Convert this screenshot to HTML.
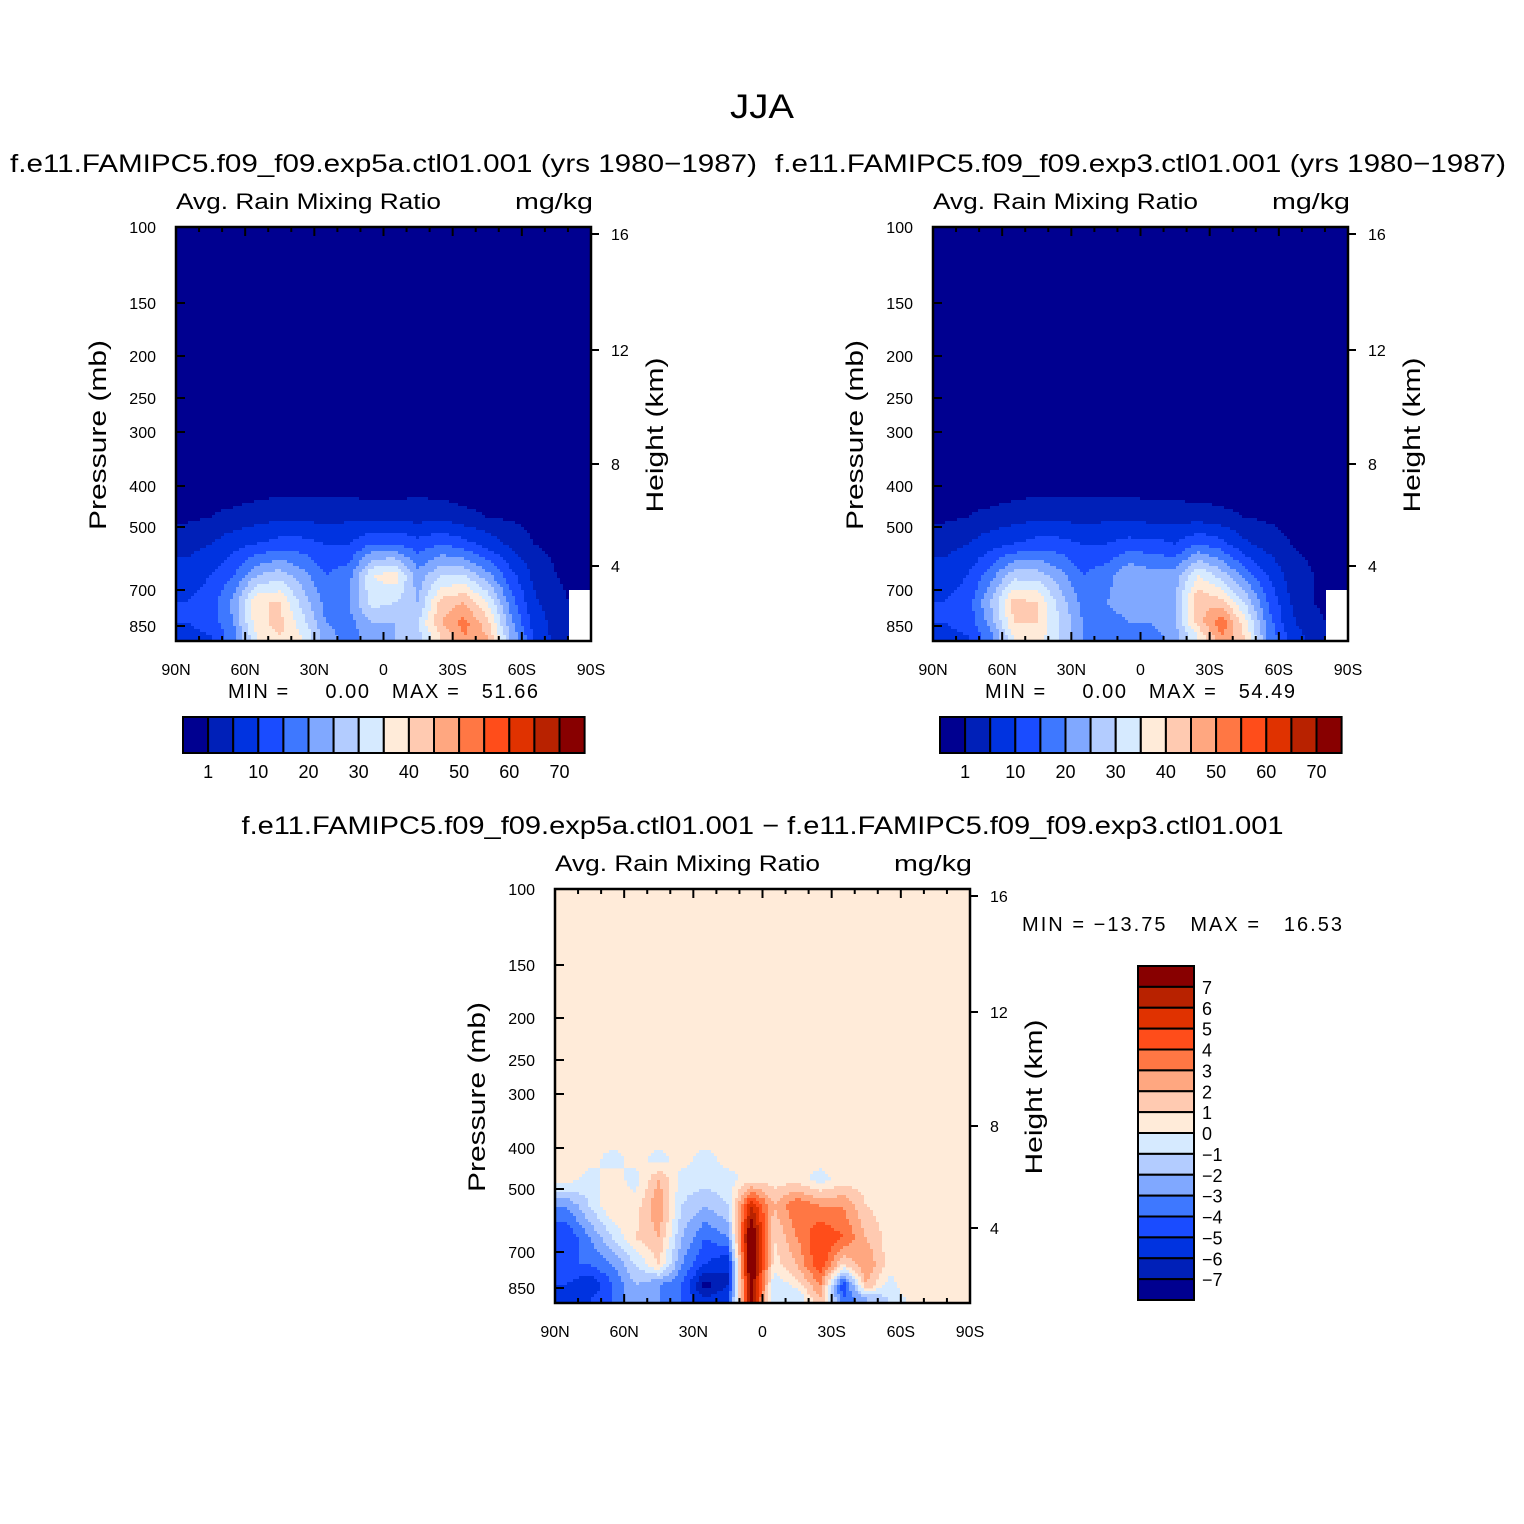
<!DOCTYPE html>
<html><head><meta charset="utf-8"><style>
body{margin:0;background:#fff}
svg{display:block;font-family:"Liberation Sans",sans-serif}
</style></head><body>
<svg id="chart" width="1524" height="1524" viewBox="0 0 1524 1524" xmlns="http://www.w3.org/2000/svg">
<rect width="1524" height="1524" fill="#fff"/>
<text x="762" y="118" font-size="34" text-anchor="middle" textLength="64" lengthAdjust="spacingAndGlyphs">JJA</text>
</svg>
<script>
// ---- data ----
const latBins = ["90-80N","80-70N","70-60N","60-50N","50-40N","40-30N","30-20N","20-10N","10-0N","0-10S","10-20S","20-30S","30-40S","40-50S","50-60S","60-70S","70-80S","80-90S"];
const presEdges = [1000,900,800,700,600,500,450,400];
const pTicks = [100,150,200,250,300,400,500,700,850];
const hTicks = [16,12,8,4];
const latTicks = ["90N","60N","30N","0","30S","60S","90S"];
const absLevels = [1,5,10,15,20,25,30,35,40,45,50,55,60,65,70];
const absLabels = ["1","10","20","30","40","50","60","70"];
const diffLevels = [-7,-6,-5,-4,-3,-2,-1,0,1,2,3,4,5,6,7];
const colors = ["#000090","#0020B8","#0033E0","#1A4CFF","#3E78FF","#80A8FF","#B3CCFF","#D6EAFF","#FFEBD9","#FFCAB1","#FFA780","#FF7744","#FF4D1A","#E03200","#B82200","#880000"];
// rows bottom->top
const exp5a = [
 [8,10,18,35,40,35,22,18,22,25,28,40,50,45,25,10,3,null],
 [10,12,20,38,42,32,20,18,25,25,30,45,52,42,22,8,3,null],
 [10,12,22,40,40,28,18,20,32,30,25,42,45,35,18,6,2,null],
 [8,10,15,25,28,22,15,18,35,38,22,30,30,22,12,4,1,0],
 [3,5,8,10,12,12,10,10,15,15,12,15,12,8,4,1,0,0],
 [0.5,1,2,3,4,4,3,4,3,4,3,4,2,1,0.5,0,0,0],
 [0,0,0,0.5,1,1,1,1,0.5,0.5,1,0.5,0,0,0,0,0,0]];
const exp3 = [
 [8,10,18,35,38,30,20,18,18,18,22,35,50,40,20,8,3,null],
 [10,12,22,40,40,30,20,18,20,20,25,42,54,38,18,6,2,null],
 [10,12,25,42,40,28,18,20,22,25,25,45,42,30,15,5,1,null],
 [8,10,18,28,28,22,15,18,25,22,22,35,28,18,10,3,1,0],
 [3,5,8,10,12,12,10,10,12,12,10,15,12,6,3,1,0,0],
 [0.5,1,2,3,4,4,3,4,4,3,3,3,2,1,0.5,0,0,0],
 [0,0,0,0.5,1,1,1,1,1,0.5,0.5,0.3,0,0,0,0,0,0]];
const diff = [
 [-6,-5,-4,-2,-3,-4,-6,-5,7.5,-1,-1,2,-4,-2,-1,0.5,0.5,0.5],
 [-5,-6,-4,-2,-3,-4,-7.5,-6,8,-1,0.5,3,-5,2,-0.5,1,0.5,0.5],
 [-4,-4,-3,-1,1,-3,-5,-6,9,0.5,2,5,1,3,0.5,0.5,0.5,0.5],
 [-5,-3,-1,1,2,-2,-4,-3,9,1,3,5,4,2,0.5,0.5,0.5,0.5],
 [-3,-1,1,0.5,3,-1,-2,-1,6,2,4,3,3,1,0.5,0.5,0.5,0.5],
 [0.5,-0.5,0.5,-0.5,2,-0.5,-0.5,-0.5,0.5,0.5,0.5,-0.5,0.5,0.5,0.5,0.5,0.5,0.5],
 [0.5,0.5,-0.5,0.5,-0.5,0.5,-0.5,0.5,0.5,0.5,0.5,0.5,0.5,0.5,0.5,0.5,0.5,0.5]];

// ---- helpers ----
const svg = document.getElementById('chart');
const NS = "http://www.w3.org/2000/svg";
function mk(tag, attrs, parent){const e=document.createElementNS(NS,tag);for(const k in attrs)e.setAttribute(k,attrs[k]);(parent||svg).appendChild(e);return e;}
const PW=415, PH=414;
const pRef=[100,150,200,250,300,400,500,700,850,1000], yRef=[0,76,129,171,205,259,300,363,399,414];
function yOfP(p){for(let i=0;i<pRef.length-1;i++){if(p<=pRef[i+1]){const t=Math.log(p/pRef[i])/Math.log(pRef[i+1]/pRef[i]);return yRef[i]+t*(yRef[i+1]-yRef[i]);}}return PH;}
const hY=[7,123,237,339];
function colorFor(v,levels){if(v===null)return "#fff";let i=0;while(i<levels.length&&v>=levels[i])i++;return colors[i];}

function sample(data,bg,px,py){
  const nc=latBins.length, cw=PW/nc;
  const ys=[]; for(let r=0;r<data.length;r++) ys.push((yOfP(presEdges[r])+yOfP(presEdges[r+1]))/2);
  const yTop=yOfP(380);
  if(py<=yTop) return bg;
  let fc=px/cw-0.5; fc=Math.max(0,Math.min(nc-1,fc));
  const c0=Math.min(nc-2,Math.floor(fc)), t=fc-c0;
  const nearC=Math.round(fc);
  const rows=data.map(r=>r.slice()); const yy=ys.slice();
  rows.push(new Array(nc).fill(bg)); yy.push(yTop);
  let i=0,s=0;
  if(py>=yy[0]){i=0;s=0;} else {for(i=0;i<yy.length-1;i++){if(py<=yy[i]&&py>=yy[i+1])break;} s=(yy[i]-py)/(yy[i]-yy[i+1]);}
  const i1=Math.min(i+1,yy.length-1);
  const nearR=s<0.5?i:i1;
  if(rows[nearR][nearC]===null) return null;
  const g=(r,c)=>{const v=rows[r][c];return v===null?0:v;};
  const a=g(i,c0)*(1-t)+g(i,c0+1)*t, b=g(i1,c0)*(1-t)+g(i1,c0+1)*t;
  return a*(1-s)+b*s;
}

function panel(x0,y0,data,levels,bg,name,title,titleLen){
  const g=mk('g',{});  
  mk('rect',{x:x0,y:y0,width:PW,height:PH,fill:colorFor(bg,levels)},g);
  const step=3, yStart=Math.floor(yOfP(380));
  for(let py=yStart;py<PH;py+=step){
    let runStart=0,runCol=null;
    const flush=(end)=>{ if(runCol!==null&&runCol!==colorFor(bg,levels)){
        const cell=mk('rect',{x:x0+runStart,y:y0+py,width:end-runStart,height:Math.min(step,PH-py)+0.4,fill:runCol},g);
        
        }};
    for(let px=0;px<PW;px+=step){
      const col=colorFor(sample(data,bg,px+step/2,py+step/2),levels);
      if(col!==runCol){flush(px);runStart=px;runCol=col;}
    }
    flush(PW);
  }
  mk('rect',{x:x0,y:y0,width:PW,height:PH,fill:'none',stroke:'#000','stroke-width':2.5},g);
  const t1=mk('text',{x:x0,y:y0-18,'font-size':22,textLength:265,lengthAdjust:'spacingAndGlyphs'},g); t1.textContent='Avg. Rain Mixing Ratio';
   
  const t2=mk('text',{x:x0+PW+2,y:y0-18,'font-size':22,'text-anchor':'end',textLength:78,lengthAdjust:'spacingAndGlyphs'},g); t2.textContent='mg/kg';
   
  for(let i=0;i<=18;i++){const x=x0+i*PW/18, L=(i%3==0)?9:5;
    mk('line',{x1:x,x2:x,y1:y0+PH,y2:y0+PH-L,stroke:'#000','stroke-width':2},g);
    mk('line',{x1:x,x2:x,y1:y0,y2:y0+L,stroke:'#000','stroke-width':2},g);}
  latTicks.forEach((s,i)=>{const t=mk('text',{x:x0+i*PW/6,y:y0+PH+34,'font-size':16,'text-anchor':'middle'},g);t.textContent=s;
     });
  pTicks.forEach(p=>{const y=y0+yOfP(p);
    mk('line',{x1:x0,x2:x0+9,y1:y,y2:y,stroke:'#000','stroke-width':2},g);
    const t=mk('text',{x:x0-20,y:y+6,'font-size':16,'text-anchor':'end'},g);t.textContent=p;
     });
  hTicks.forEach((h,i)=>{const y=y0+hY[i];
    mk('line',{x1:x0+PW,x2:x0+PW+8,y1:y,y2:y,stroke:'#000','stroke-width':2},g);
    const t=mk('text',{x:x0+PW+20,y:y+6,'font-size':16},g);t.textContent=h;
     });
  const yl=mk('text',{x:0,y:0,'font-size':24,'text-anchor':'middle',textLength:190,lengthAdjust:'spacingAndGlyphs',transform:`translate(${x0-70},${y0+208}) rotate(-90)`},g);yl.textContent='Pressure (mb)';
   
  const yr=mk('text',{x:0,y:0,'font-size':24,'text-anchor':'middle',textLength:155,lengthAdjust:'spacingAndGlyphs',transform:`translate(${x0+PW+72},${y0+208}) rotate(-90)`},g);yr.textContent='Height (km)';
   
  const st=mk('text',{x:x0+PW/2,y:y0-55,'font-size':25,'text-anchor':'middle',lengthAdjust:'spacingAndGlyphs',textLength:titleLen},g);st.textContent=title;
   
}
function hbar(x0,y0,minmax){
  const g=mk('g',{});  
  colors.forEach((c,i)=>{mk('rect',{x:x0+i*25.1,y:y0,width:25.1,height:36,fill:c,stroke:'#000','stroke-width':2},g);});
  absLabels.forEach((s,i)=>{const t=mk('text',{x:x0+25.1*(1+2*i),y:y0+61,'font-size':18,'text-anchor':'middle'},g);t.textContent=s;
     });
  const m=mk('text',{x:x0+45,y:y0-19,'font-size':20,style:'white-space:pre',textLength:310,lengthAdjust:'spacing'},g);m.textContent=minmax;
   
}
panel(176,227,exp5a,absLevels,0,'panel-exp5a','f.e11.FAMIPC5.f09_f09.exp5a.ctl01.001 (yrs 1980\u22121987)',747);
panel(933,227,exp3,absLevels,0,'panel-exp3','f.e11.FAMIPC5.f09_f09.exp3.ctl01.001 (yrs 1980\u22121987)',731);
panel(555,889,diff,diffLevels,0.5,'panel-difference','f.e11.FAMIPC5.f09_f09.exp5a.ctl01.001 \u2212 f.e11.FAMIPC5.f09_f09.exp3.ctl01.001',1042);
hbar(183,717,'MIN =     0.00   MAX =   51.66');
hbar(940,717,'MIN =     0.00   MAX =   54.49');
(function(){
  const g=mk('g',{});  
  const x0=1138,y0=966,h=334/16;
  colors.slice().reverse().forEach((c,i)=>{mk('rect',{x:x0,y:y0+i*h,width:56,height:h,fill:c,stroke:'#000','stroke-width':2},g);});
  diffLevels.slice().reverse().forEach((v,i)=>{const t=mk('text',{x:x0+64,y:y0+(i+1)*h+7,'font-size':18},g);t.textContent=v<0?'\u2212'+(-v):String(v);
     });
  const m=mk('text',{x:1022,y:931,'font-size':20,style:'white-space:pre',textLength:320,lengthAdjust:'spacing'},g);m.textContent='MIN = \u221213.75   MAX =   16.53';
   
})();
</script>
</body></html>
